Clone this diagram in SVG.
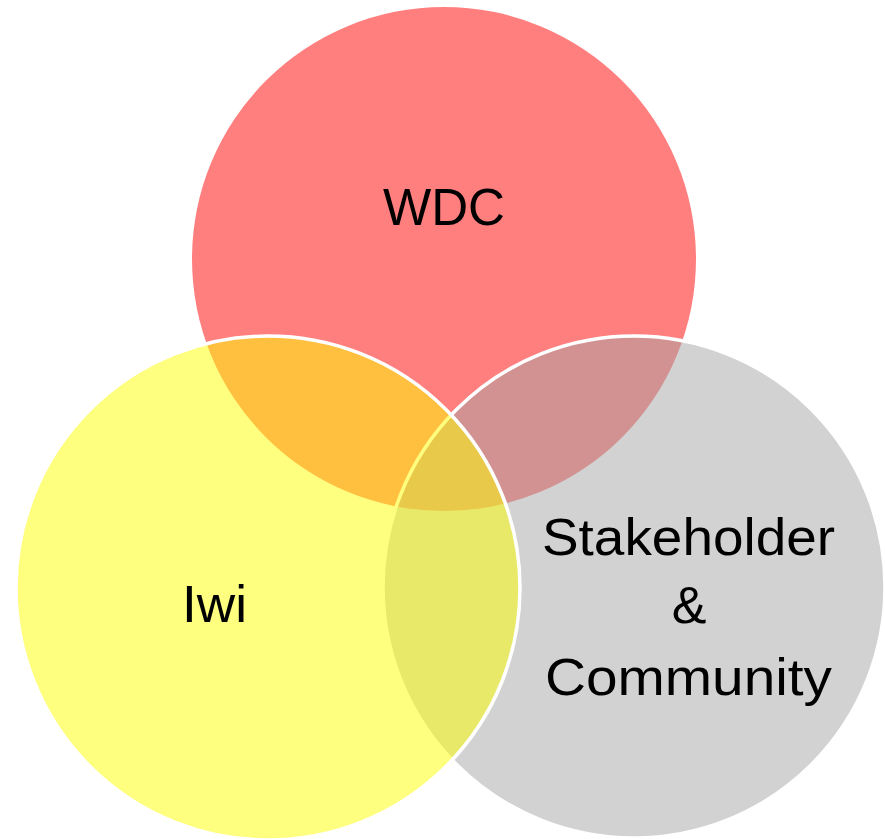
<svg xmlns="http://www.w3.org/2000/svg" width="885" height="839" viewBox="0 0 885 839">
<style>
.c{fill-opacity:0.5}
.s{stroke:#FFFFFF;stroke-width:3.5}
.t{font-family:"Liberation Sans",Arial,sans-serif;font-size:52px;fill:#000000;text-anchor:middle}
</style>
<rect width="885" height="839" fill="#FFFFFF"/>
<g id="wdc">
<circle class="c" cx="444" cy="259" r="252" fill="#FF0000"/>
<text class="t" x="444" y="225" textLength="122" lengthAdjust="spacingAndGlyphs">WDC</text>
</g>
<g id="stakeholder">
<circle class="c s" cx="634" cy="587" r="251" fill="#A5A5A5"/>
</g>
<g id="iwi">
<circle class="c s" cx="268" cy="588" r="252" fill="#FFFF00"/>
</g>
<g id="labels">
<text class="t" x="214.5" y="622" textLength="65" lengthAdjust="spacingAndGlyphs">Iwi</text>
<text class="t" x="688.5" y="555" textLength="293" lengthAdjust="spacingAndGlyphs">Stakeholder</text>
<text class="t" x="689" y="623">&amp;</text>
<text class="t" x="688.5" y="695" textLength="287" lengthAdjust="spacingAndGlyphs">Community</text>
</g>
</svg>
